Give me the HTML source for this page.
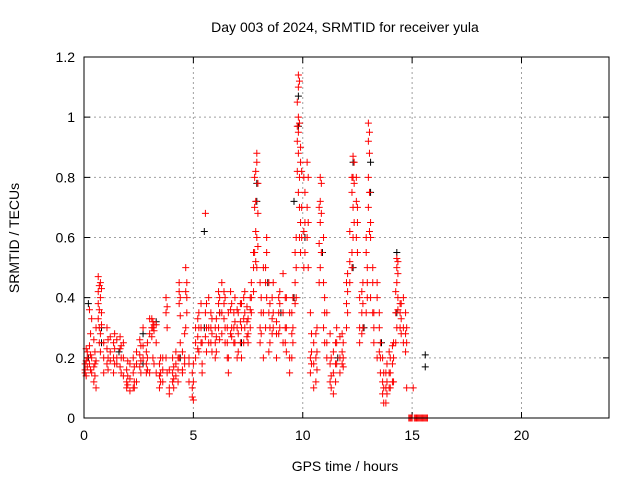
<!DOCTYPE html>
<html><head><meta charset="utf-8"><style>
body{margin:0;background:#fff}
svg{display:block;font-family:"Liberation Sans",sans-serif}
</style></head><body>
<svg id="chart" width="640" height="480">
<rect width="640" height="480" fill="#fff"/>
<text x="345" y="32" text-anchor="middle" font-size="14">Day 003 of 2024, SRMTID for receiver yula</text>
<text x="345" y="471" text-anchor="middle" font-size="14">GPS time / hours</text>
<text transform="translate(19,238) rotate(-90)" text-anchor="middle" font-size="14">SRMTID / TECUs</text>
<g id="grid"></g>
<g id="axes"></g>
<g id="black"></g>
<g id="red"></g>
<rect x="84" y="57" width="525" height="361" fill="none" stroke="#000" stroke-width="1"/>
</svg>
<script>
const xTicks=[0,5,10,15,20];
const yTicks=[0,0.2,0.4,0.6,0.8,1,1.2];
const yTickLabels=["0","0.2","0.4","0.6","0.8","1","1.2"];
const redTimes=[0.05,0.15,0.25,0.35,0.45,0.55,0.65,0.75,0.9,1.05,1.2,1.35,1.5,1.65,1.8,1.95,2.1,2.25,2.4,2.55,2.7,2.85,3.0,3.15,3.3,3.45,3.6,3.75,3.9,4.05,4.2,4.35,4.5,4.65,4.8,4.95,5.1,5.25,5.4,5.55,5.7,5.85,6.0,6.15,6.3,6.45,6.6,6.75,6.9,7.05,7.2,7.35,7.5,7.65,7.8,7.9,8.05,8.2,8.35,8.5,8.65,8.8,8.95,9.1,9.25,9.4,9.55,9.7,9.8,9.9,10.05,10.2,10.35,10.5,10.65,10.8,10.95,11.1,11.25,11.4,11.55,11.7,11.85,12.0,12.15,12.3,12.45,12.6,12.75,12.9,13.0,13.1,13.25,13.4,13.55,13.7,13.85,14.0,14.15,14.3,14.45,14.6,14.75,15.05,14.85,15.0,15.1,15.2,15.3,15.4,15.5,15.6,15.7];
const redValues=[[.16,.18,.15],[.2,.17,.22],[.18,.24,.36],[.2,.15,.33],[.12,.17,.26],[.1,.19,.3],[.38,.42,.47,.33],[.45,.4,.28,.22],[.2,.15,.25],[.18,.23,.3],[.22,.27,.19],[.25,.2,.15],[.2,.26,.18],[.23,.27,.17],[.14,.2,.25],[.12,.1,.16],[.09,.13,.18],[.1,.15,.2],[.12,.18,.22],[.17,.21,.26],[.2,.24,.3],[.18,.22,.15],[.28,.33,.15],[.3,.32,.2],[.25,.31,.15],[.14,.18,.1],[.16,.2,.12],[.35,.4,.2],[.1,.08,.16],[.12,.15,.2],[.14,.18,.22],[.38,.45,.42,.2],[.16,.22,.15],[.3,.42,.5],[.18,.2,.12],[.07,.1,.15],[.2,.25,.3],[.22,.3,.35],[.18,.15,.25],[.68,.35,.27],[.25,.3,.4],[.28,.22,.33],[.3,.25,.2],[.38,.42,.3],[.35,.45,.28],[.3,.25,.4],[.2,.15,.35],[.3,.38,.27],[.25,.32,.4],[.22,.28,.35],[.2,.3,.38],[.35,.42,.3],[.28,.25,.33],[.45,.35,.4],[.55,.7,.8],[.88,.85,.6,.5],[.3,.25,.45],[.2,.35,.5],[.6,.55,.4],[.3,.38,.25],[.35,.3,.45],[.2,.28,.32],[.38,.42,.3],[.25,.35,.48],[.3,.22,.4],[.15,.2,.35],[.25,.3,.4],[.5,.6,.4],[1.0,1.1,1.14,.95,.88,.75],[.9,.85,.65,.55],[.5,.62,.8],[.7,.85,.6],[.2,.15,.35],[.18,.25,.1],[.3,.22,.16],[.72,.8,.65,.5],[.6,.45,.3],[.2,.25,.35],[.12,.18,.28],[.08,.15,.22],[.25,.3,.18],[.15,.2,.27],[.25,.2,.17],[.38,.3,.45],[.52,.62,.45],[.87,.8,.7,.6],[.6,.72,.8],[.3,.25,.4],[.45,.38,.3],[.35,.55,.6],[.98,.92,.8,.7],[.6,.65,.4],[.3,.35,.25],[.4,.45,.2],[.2,.25,.15],[.1,.15,.05],[.12,.08,.18],[.1,.2,.15],[.2,.25,.12],[.5,.53,.45,.3],[.35,.38,.3],[.3,.25,.4],[.3,.25,.1],[.1],[0],[0],[0],[0],[0],[0],[0],[0],[0]];
const extraTimes=[0.1,0.3,0.5,0.7,0.8,1.1,1.4,1.7,2.0,2.3,2.6,2.9,3.1,3.2,3.5,3.8,4.1,4.3,4.4,4.6,4.7,5.0,5.2,5.35,5.6,5.8,6.05,6.2,6.4,6.55,6.7,6.85,7.0,7.15,7.3,7.45,7.6,7.75,7.85,7.95,8.1,8.3,8.45,8.6,8.9,9.2,9.5,9.65,9.75,9.85,9.95,10.1,10.25,10.4,10.6,10.75,10.85,11.0,11.3,11.5,11.8,12.05,12.25,12.35,12.5,12.7,12.95,13.05,13.2,13.5,13.65,13.8,13.95,14.1,14.25,14.35,14.5,14.7,14.9,14.95,15.15,15.25,15.35,15.45,15.55,15.65];
const extraValues=[[.19,.23,.14],[.21,.28,.16],[.14,.22,.18],[.36,.44,.3,.25],[.35,.31,.43],[.2,.26,.16],[.23,.18,.28],[.2,.24,.15],[.11,.14,.19],[.12,.17,.1],[.15,.19,.24],[.2,.16,.25],[.3,.27,.33],[.31,.29,.18],[.15,.12,.2],[.3,.37,.15],[.13,.1,.17],[.16,.2,.12],[.4,.34,.25],[.2,.18,.28],[.35,.45,.4],[.06,.12,.18],[.27,.33,.23],[.3,.25,.38],[.3,.38,.22],[.35,.25,.3],[.27,.33,.22],[.35,.4,.26],[.38,.33,.42],[.25,.3,.2],[.36,.28,.42],[.25,.35,.3],[.3,.36,.2],[.25,.38,.32],[.25,.4,.33],[.32,.37,.27],[.3,.4,.36],[.5,.42,.55],[.72,.62,.82,.52],[.78,.68,.57],[.4,.35,.28],[.45,.5,.3],[.35,.45,.22],[.28,.4,.33],[.28,.35,.4],[.3,.4,.25],[.28,.35,.2],[.45,.55,.38],[.97,.92,1.05,.82],[1.12,.98,.8,.7,.6],[.6,.7,.82],[.75,.65,.55],[.8,.65,.5],[.28,.22,.18],[.28,.2,.12],[.7,.58,.45],[.78,.68,.55],[.4,.35,.25],[.2,.1,.14],[.18,.25,.12],[.22,.28,.18],[.35,.42,.48],[.8,.75,.55,.5],[.85,.78,.65],[.7,.65,.55],[.35,.42,.28],[.5,.45,.4],[.95,.88,.75,.62],[.45,.5,.35],[.3,.22,.35],[.12,.2,.08],[.05,.1,.15],[.15,.1,.22],[.18,.12,.24],[.35,.42,.25],[.52,.48,.4,.36],[.38,.33,.28],[.35,.28,.22],[0],[0],[0],[0],[0],[0],[0],[0]];
const blackTimes=[0.2,0.8,1.6,2.7,3.3,4.4,5.5,6.2,7.2,7.9,8.4,9.0,9.6,9.8,10.1,10.9,11.6,12.3,12.8,13.1,13.6,14.3,15.6];
const blackValues=[[.38,.2],[.3,.25],[.22],[.28,.18],[.32],[.2],[.62,.3],[.35],[.25],[.78,.72],[.45],[.35],[.72,.4],[.97,1.07],[.6],[.55],[.2],[.85,.5],[.3],[.85,.75],[.25],[.55,.35],[.21,.17]];
const X0=84,X1=609,Y0=418,Y1=57;
const xs=t=>X0+(t/24)*(X1-X0);
const ys=v=>Y0-(v/1.2)*(Y0-Y1);
const NS="http://www.w3.org/2000/svg";
function mk(tag,attrs,parent){const e=document.createElementNS(NS,tag);for(const k in attrs)e.setAttribute(k,attrs[k]);parent.appendChild(e);return e;}
const grid=document.getElementById('grid'),axes=document.getElementById('axes');
xTicks.forEach(t=>{const x=xs(t);
 if(t>0){const g=mk('line',{x1:x,x2:x,y1:Y1,y2:Y0,stroke:'#a0a0a0','stroke-dasharray':'2,3'},grid);
 
 }
 const tk=mk('path',{d:`M${x},${Y0}v-6M${x},${Y1}v6`,stroke:'#000'},axes);
 
 
 const l=mk('text',{x:x,y:Y0+22,'text-anchor':'middle','font-size':'14'},axes);l.textContent=String(t);
 
 
});
yTicks.forEach((v,i)=>{const y=ys(v);
 if(v>0&&v<1.2){const g=mk('line',{x1:X0,x2:X1,y1:y,y2:y,stroke:'#a0a0a0','stroke-dasharray':'2,3'},grid);
 
 }
 const tk=mk('path',{d:`M${X0},${y}h6M${X1},${y}h-6`,stroke:'#000'},axes);
 
 
 const l=mk('text',{x:X0-9,y:y+5,'text-anchor':'end','font-size':'14'},axes);l.textContent=yTickLabels[i];
 
 
});
function plot(times,vals,color,id){const g=document.getElementById(id);
 times.forEach((t,i)=>{vals[i].forEach(v=>{const x=xs(t),y=ys(v);
  const p=mk('path',{d:`M${x-3.5},${y}h7M${x},${y-3.5}v7`,stroke:color,'stroke-width':'1'},g);
  
  
 });});}
plot(blackTimes,blackValues,'#000','black');
plot(redTimes,redValues,'#ff0000','red');
plot(extraTimes,extraValues,'#ff0000','red');
</script>
</body></html>
